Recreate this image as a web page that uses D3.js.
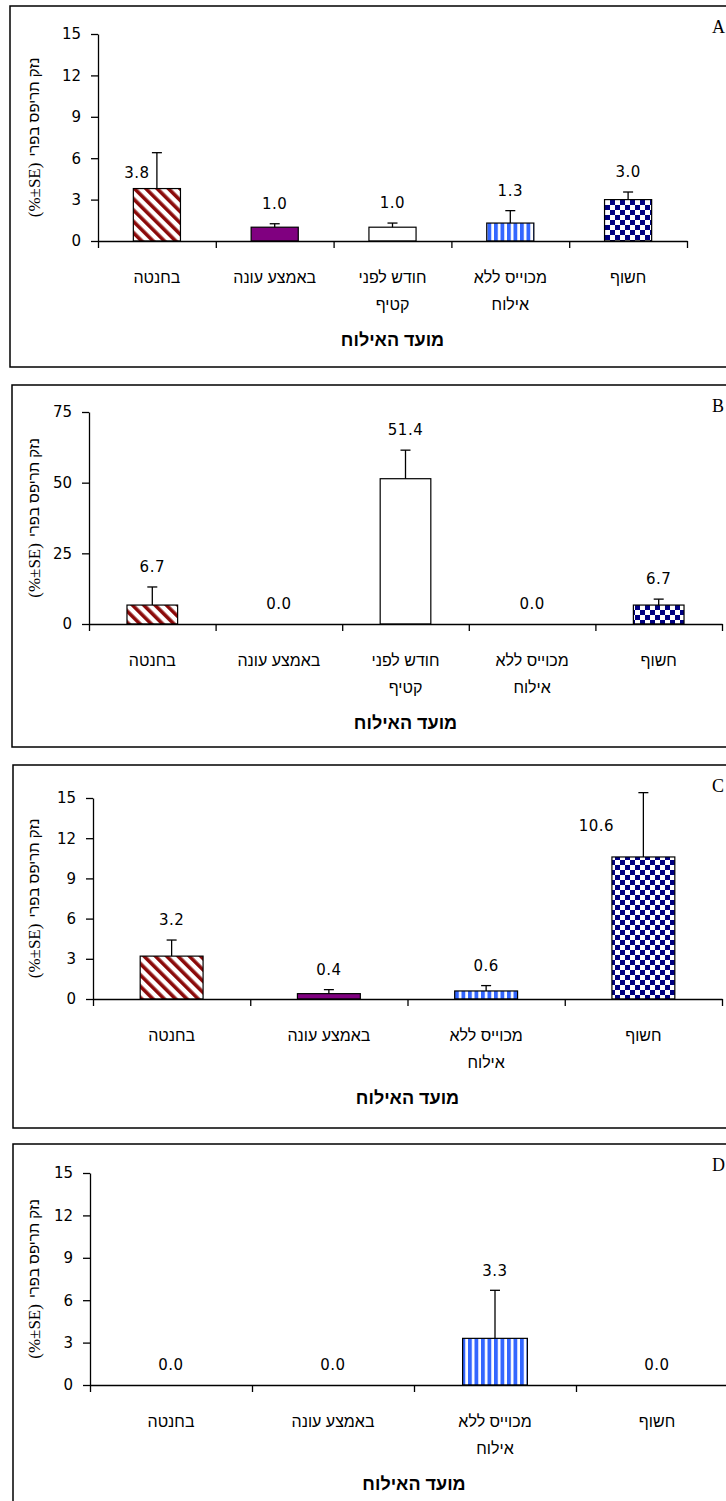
<!DOCTYPE html>
<html>
<head>
<meta charset="utf-8">
<script src="https://cdn.jsdelivr.net/npm/d3@7"></script>
<style>
  body { margin: 0; background: #fff; }
  svg { display: block; }
</style>
</head>
<body>
<svg id="chart" width="726" height="1501"></svg>
<script>
// categories (left to right as drawn)
const catsFive = ["בחנטה", "באמצע עונה", "חודש לפני קטיף", "מכוייס ללא אילוח", "חשוף"];
const catsFour = ["בחנטה", "באמצע עונה", "מכוייס ללא אילוח", "חשוף"];

// panel values (mean damage %) and standard errors
const valuesA = [3.8, 1.0, 1.0, 1.3, 3.0];
const errorsA = [2.6, 0.25, 0.3, 0.9, 0.55];
const valuesB = [6.7, 0.0, 51.4, 0.0, 6.7];
const errorsB = [6.4, 0, 10.1, 0, 2.1];
const valuesC = [3.2, 0.4, 0.6, 10.6];
const errorsC = [1.2, 0.3, 0.4, 4.8];
const valuesD = [0.0, 0.0, 3.3, 0.0];
const errorsD = [0, 0, 3.4, 0];

// axis ticks
const ticksSmall = [0, 3, 6, 9, 12, 15];
const ticksLarge = [0, 25, 50, 75];

const yTitleHeb = "נזק תריפס בפרי";
const yTitleUnit = "(%±SE)";
const xTitle = "מועד האילוח";

// fill per category
const fillOf = {
  "בחנטה": "url(#redStripe)",
  "באמצע עונה": "#800080",
  "חודש לפני קטיף": "#ffffff",
  "מכוייס ללא אילוח": "url(#blueStripe)",
  "חשוף": "url(#checker)"
};

// layout of the four stacked boxes
const panels = [
  { letter: "A", cats: catsFive, values: valuesA, errors: errorsA, ticks: ticksSmall,
    top: 6, left: 10, bottom: 367, axisX: 98, axisRight: 687, y0: 241, yTop: 34,
    nudge: { 0: [-20, 40] } },
  { letter: "B", cats: catsFive, values: valuesB, errors: errorsB, ticks: ticksLarge,
    top: 385, left: 12, bottom: 747, axisX: 89, axisRight: 722, y0: 624, yTop: 412,
    nudge: {} },
  { letter: "C", cats: catsFour, values: valuesC, errors: errorsC, ticks: ticksSmall,
    top: 765, left: 13, bottom: 1128, axisX: 93, axisRight: 722, y0: 999, yTop: 798,
    nudge: { 3: [-47, 53] } },
  { letter: "D", cats: catsFour, values: valuesD, errors: errorsD, ticks: ticksSmall,
    top: 1144, left: 13, bottom: 1520, axisX: 90, axisRight: 738, y0: 1385, yTop: 1173,
    nudge: {} }
];

const svg = d3.select("#chart");
const fmt = d3.format(".1f");

// fill patterns
const defs = svg.append("defs");
const red = defs.append("pattern").attr("id", "redStripe")
  .attr("patternUnits", "userSpaceOnUse").attr("width", 8).attr("height", 8)
  .attr("patternTransform", "rotate(-45)");
red.append("rect").attr("width", 8).attr("height", 8).attr("fill", "#fff");
red.append("rect").attr("width", 3.6).attr("height", 8).attr("fill", "#8b0a0a");

const blue = defs.append("pattern").attr("id", "blueStripe")
  .attr("patternUnits", "userSpaceOnUse").attr("width", 6.5).attr("height", 6.5);
blue.append("rect").attr("width", 6.5).attr("height", 6.5).attr("fill", "#fff");
blue.append("rect").attr("width", 3.8).attr("height", 6.5).attr("fill", "#3366ff");

const chk = defs.append("pattern").attr("id", "checker")
  .attr("patternUnits", "userSpaceOnUse").attr("width", 10).attr("height", 10);
chk.append("rect").attr("width", 10).attr("height", 10).attr("fill", "#fff");
chk.append("rect").attr("width", 5).attr("height", 5).attr("fill", "#000080");
chk.append("rect").attr("x", 5).attr("y", 5).attr("width", 5).attr("height", 5).attr("fill", "#000080");

function drawPanel(p) {
  const g = svg.append("g");
  const n = p.cats.length;

  g.append("rect")
    .attr("x", p.left).attr("y", p.top)
    .attr("width", 760).attr("height", p.bottom - p.top)
    .attr("fill", "none").attr("stroke", "#000").attr("stroke-width", 1.5);

  g.append("text")
    .attr("x", 712).attr("y", p.top + 27)
    .attr("font-family", "Liberation Serif").attr("font-size", 18)
    .text(p.letter);

  const y = d3.scaleLinear().domain([0, d3.max(p.ticks)]).range([p.y0, p.yTop]);
  const x = d3.scaleBand().domain(p.cats).range([p.axisX, p.axisRight])
    .paddingInner(0.6).paddingOuter(0.3);
  const xb = d3.scaleLinear().domain([0, n]).range([p.axisX, p.axisRight]);

  // y axis
  const ya = g.append("g").attr("transform", `translate(${p.axisX},0)`)
    .call(d3.axisLeft(y).tickValues(p.ticks).tickSize(7).tickPadding(10).tickSizeOuter(0));
  ya.selectAll("text").attr("font-family", "DejaVu Sans").attr("font-size", 15).attr("fill", "#000");
  ya.selectAll("line,path").attr("stroke", "#000").attr("stroke-width", 1.3);

  // bars
  const rows = p.cats.map((c, i) => ({ cat: c, v: p.values[i], se: p.errors[i], i }));
  g.selectAll("rect.bar").data(rows.filter(d => d.v > 0)).join("rect")
    .attr("class", "bar")
    .attr("x", d => x(d.cat)).attr("width", x.bandwidth())
    .attr("y", d => y(d.v)).attr("height", d => y(0) - y(d.v))
    .attr("fill", d => fillOf[d.cat]).attr("stroke", "#000").attr("stroke-width", 1.2);

  // x axis with ticks between categories
  const xa = g.append("g").attr("transform", `translate(0,${p.y0})`)
    .call(d3.axisBottom(xb).tickValues(d3.range(n + 1)).tickFormat("").tickSize(7).tickSizeOuter(0));
  xa.selectAll("line,path").attr("stroke", "#000").attr("stroke-width", 1.3);

  // error bars (upper only)
  const eb = g.selectAll("g.err").data(rows.filter(d => d.se > 0)).join("g").attr("class", "err")
    .attr("stroke", "#000").attr("stroke-width", 1.3);
  eb.append("line")
    .attr("x1", d => x(d.cat) + x.bandwidth() / 2).attr("x2", d => x(d.cat) + x.bandwidth() / 2)
    .attr("y1", d => y(d.v)).attr("y2", d => y(d.v + d.se));
  eb.append("line")
    .attr("x1", d => x(d.cat) + x.bandwidth() / 2 - 5).attr("x2", d => x(d.cat) + x.bandwidth() / 2 + 5)
    .attr("y1", d => y(d.v + d.se)).attr("y2", d => y(d.v + d.se));

  // value labels
  g.selectAll("text.val").data(rows).join("text")
    .attr("class", "val")
    .attr("x", d => x(d.cat) + x.bandwidth() / 2 + (p.nudge[d.i] ? p.nudge[d.i][0] : 0))
    .attr("y", d => y(d.v + d.se) - 20 + (p.nudge[d.i] ? p.nudge[d.i][1] : 0))
    .attr("dy", "0.35em")
    .attr("text-anchor", "middle")
    .attr("font-family", "DejaVu Sans").attr("font-size", 15).attr("letter-spacing", 0.5)
    .text(d => fmt(d.v));

  // category labels, wrapped after two words
  const cl = g.selectAll("text.cat").data(p.cats).join("text")
    .attr("class", "cat")
    .attr("text-anchor", "middle")
    .attr("font-family", "Liberation Sans").attr("font-size", 16);
  cl.each(function (c) {
    const words = c.split(" ");
    const lines = words.length > 2 ? [words.slice(0, 2).join(" "), words.slice(2).join(" ")] : [c];
    lines.forEach((ln, k) => {
      d3.select(this).append("tspan")
        .attr("x", x(c) + x.bandwidth() / 2)
        .attr("y", p.y0 + 36 + k * 27)
        .attr("dy", "0.35em")
        .text(ln);
    });
  });

  // x title
  g.append("text")
    .attr("x", (p.axisX + p.axisRight) / 2).attr("y", p.y0 + 99).attr("dy", "0.35em")
    .attr("text-anchor", "middle")
    .attr("font-family", "Liberation Sans").attr("font-size", 18).attr("font-weight", "bold")
    .text(xTitle);

  // rotated y title: unit part (serif) at the bottom, Hebrew part above
  const yt = g.append("g").attr("transform", `translate(34,${(p.y0 + p.yTop) / 2}) rotate(-90)`);
  const unit = yt.append("text").attr("font-family", "Liberation Serif").attr("font-size", 17)
    .attr("dy", "0.35em").text(yTitleUnit);
  const heb = yt.append("text").attr("font-family", "Liberation Sans").attr("font-size", 15)
    .attr("dy", "0.35em").text(yTitleHeb);
  const w1 = unit.node().getComputedTextLength();
  const w2 = heb.node().getComputedTextLength();
  const gap = 6;
  const start = -(w1 + gap + w2) / 2;
  unit.attr("x", start);
  heb.attr("x", start + w1 + gap);
}

panels.forEach(drawPanel);
</script>
</body>
</html>
